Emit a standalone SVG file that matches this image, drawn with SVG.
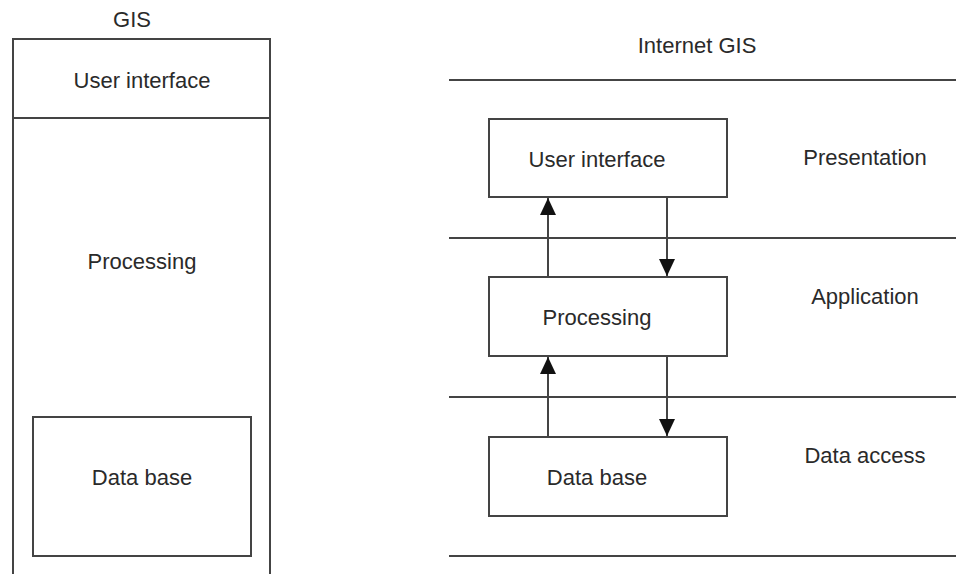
<svg xmlns="http://www.w3.org/2000/svg" width="956" height="574" viewBox="0 0 956 574">
<defs>
<style>
text{font-family:"Liberation Sans",Arial,sans-serif;fill:#2a2a2a;text-anchor:middle;font-size:22px}
.ln{stroke:#444;stroke-width:2;fill:none}
.bx{stroke:#444;stroke-width:2;fill:#fff}
</style>
<marker id="ah" viewBox="0 0 17 16" refX="17" refY="8" markerWidth="17" markerHeight="16" markerUnits="userSpaceOnUse" orient="auto">
<path d="M0,0 L17,8 L0,16 Z" fill="#111"/>
</marker>
</defs>
<rect width="956" height="574" fill="#fff"/>
<g id="gis">
<text x="132" y="27">GIS</text>
<path class="ln" d="M13,574 V39 H270 V574"/>
<line class="ln" x1="13" y1="118" x2="270" y2="118"/>
<text x="142" y="88">User interface</text>
<text x="142" y="269">Processing</text>
</g>
<g id="gis-database">
<rect class="bx" x="33" y="417" width="218" height="139"/>
<text x="142" y="485">Data base</text>
</g>
<g id="layers">
<text x="697" y="53" font-size="16">Internet GIS</text>
<line class="ln" x1="449" y1="80" x2="956" y2="80"/>
<line class="ln" x1="449" y1="238" x2="956" y2="238"/>
<line class="ln" x1="449" y1="397" x2="956" y2="397"/>
<line class="ln" x1="449" y1="556" x2="956" y2="556"/>
<text x="865" y="165">Presentation</text>
<text x="865" y="304">Application</text>
<text x="865" y="463">Data access</text>
</g>
<g id="ui">
<rect class="bx" x="489" y="119" width="238" height="78"/>
<text x="597" y="167">User interface</text>
</g>
<g id="processing">
<rect class="bx" x="489" y="277" width="238" height="79"/>
<text x="597" y="325">Processing</text>
</g>
<g id="database">
<rect class="bx" x="489" y="437" width="238" height="79"/>
<text x="597" y="485">Data base</text>
</g>
<g id="connectors">
<line class="ln" x1="548" y1="277" x2="548" y2="198" marker-end="url(#ah)"/>
<line class="ln" x1="667" y1="197" x2="667" y2="276" marker-end="url(#ah)"/>
<line class="ln" x1="548" y1="437" x2="548" y2="357" marker-end="url(#ah)"/>
<line class="ln" x1="667" y1="356" x2="667" y2="436" marker-end="url(#ah)"/>
</g>
</svg>
